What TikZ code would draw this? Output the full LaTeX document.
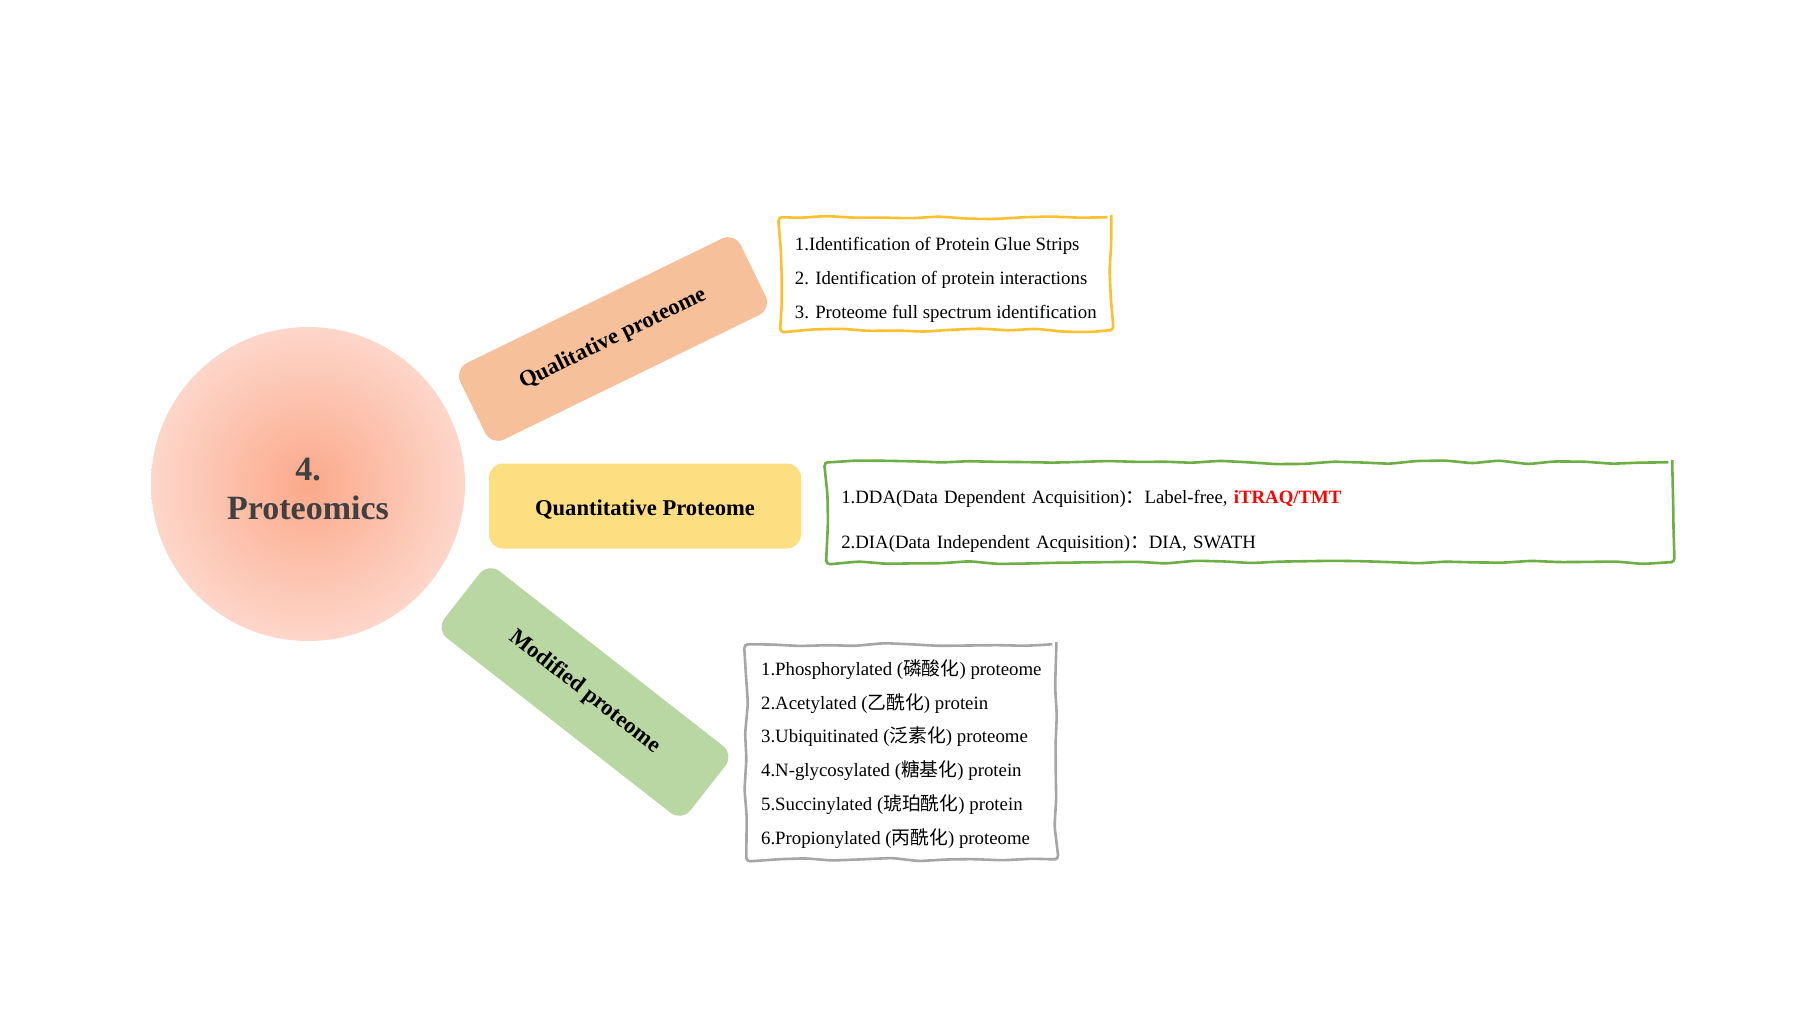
\documentclass[tikz,border=0pt]{standalone}
\usepackage{fontspec}
\setmainfont{Liberation Serif}
\newfontfamily\cjk{Noto Sans CJK SC}
\usetikzlibrary{decorations.pathmorphing}

\definecolor{corepink}{HTML}{FBA98A}
\definecolor{coreedge}{HTML}{FDD6CA}
\definecolor{qualfill}{HTML}{F5C09A}
\definecolor{quantfill}{HTML}{FDDF82}
\definecolor{modfill}{HTML}{B8D7A3}
\definecolor{qualline}{HTML}{FBC02D}
\definecolor{quantline}{HTML}{6DAF45}
\definecolor{modline}{HTML}{A6A6A6}
\definecolor{itraqred}{HTML}{FF0000}

% invisible strut to push a block of lines down inside its box
\newcommand{\topgap}[1]{\rule{0pt}{#1}}

\begin{document}
\begin{tikzpicture}[x=0.5pt, y=-0.5pt,
    branch/.style={rounded corners=7pt, minimum width=156pt, minimum height=42.5pt,
      font=\fontsize{11.3}{13}\selectfont\bfseries},
    listbox/.style={draw, line width=1.3pt, decorate,
      decoration={random steps, segment length=14pt, amplitude=0.9pt}, rounded corners=2pt,
      align=left, anchor=north west, inner xsep=7pt, font=\fontsize{9.4}{16.9}\selectfont}]

      \pgfmathsetseed{7}
      \useasboundingbox (0,0) rectangle (1800,1012);

      \node (core) [circle, minimum size=157pt, inner color=corepink, outer color=coreedge,
        align=center, text=black!75, font=\fontsize{17}{19.5}\selectfont\bfseries]
        at (308,484) {\topgap{16.2pt}4.\\Proteomics};

      \node (qual) [branch, fill=qualfill, rotate=26] at (613,339) {Qualitative proteome};
      \node (quant) [branch, fill=quantfill] at (645,506) {\topgap{11.1pt}Quantitative Proteome};
      \node (modi) [branch, fill=modfill, rotate=-38] at (585,692) {Modified proteome};

      \node (qual list) [listbox, draw=qualline, minimum width=165.5pt, minimum height=56.5pt] at (779,216)
        {\topgap{12.4pt}1.Identification of Protein Glue Strips\\2. Identification of protein interactions\\
         3. Proteome full spectrum identification};

      \node (quant list) [listbox, draw=quantline, text width=408pt, inner xsep=7.5pt, minimum height=50pt,
        font=\fontsize{9.4}{22.5}\selectfont] at (825,461)
        {\topgap{15.8pt}1.DDA(Data Dependent Acquisition){\cjk ：}Label-free, \textcolor{itraqred}{\textbf{iTRAQ/TMT}}\\
         2.DIA(Data Independent Acquisition){\cjk ：}DIA, SWATH};

      \node (mod list) [listbox, draw=modline, minimum width=155pt, minimum height=107.5pt] at (745,643)
        {\topgap{10pt}1.Phosphorylated ({\cjk 磷酸化}) proteome\\2.Acetylated ({\cjk 乙酰化}) protein\\
         3.Ubiquitinated ({\cjk 泛素化}) proteome\\4.N-glycosylated ({\cjk 糖基化}) protein\\
         5.Succinylated ({\cjk 琥珀酰化}) protein\\6.Propionylated ({\cjk 丙酰化}) proteome};

    \end{tikzpicture}
\end{document}
